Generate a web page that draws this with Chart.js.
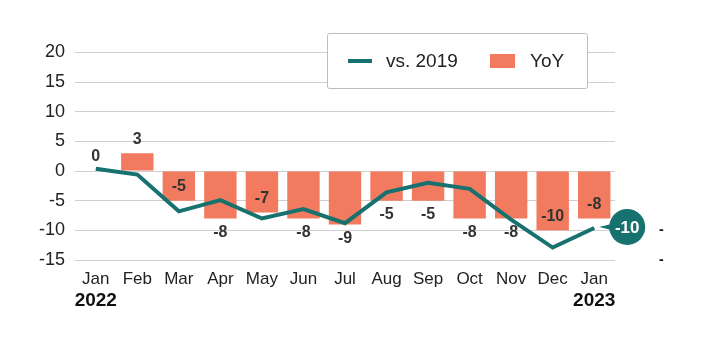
<!DOCTYPE html>
<html>
<head>
<meta charset="utf-8">
<script src="https://cdn.jsdelivr.net/npm/chart.js@4/dist/chart.umd.min.js"></script>
<style>
  html, body { margin: 0; padding: 0; background: #fff; }
  #wrap { width: 701px; height: 340px; }
</style>
</head>
<body>
<div id="wrap"><canvas id="chart" width="701" height="340"></canvas></div>
<script>
// Chart data
const categories = ['Jan', 'Feb', 'Mar', 'Apr', 'May', 'Jun', 'Jul', 'Aug', 'Sep', 'Oct', 'Nov', 'Dec', 'Jan'];
const yearLabels = ['2022', '', '', '', '', '', '', '', '', '', '', '', '2023'];
const yoyValues = [0, 3, -5, -8, -7, -8, -9, -5, -5, -8, -8, -10, -8];
const vs2019Values = [0.4, -0.6, -6.8, -4.9, -8, -6.4, -8.8, -3.6, -2, -3, -8.2, -12.9, -9.6];
// where each YoY label sits relative to its bar
const yoyLabelSide = ['above', 'above', 'inside', 'below', 'inside', 'below', 'below', 'below', 'below', 'below', 'below', 'inside', 'inside'];

const TEAL = '#17716f';
const SALMON = '#f27b5f';
const FONT = '"Liberation Sans", Arial, Helvetica, sans-serif';

Chart.defaults.font.family = FONT;
Chart.defaults.color = '#222';

/**
 * Draws the value labels on the bars, the bubble on the last line point
 * and the year captions under the first and last month.
 */
const labelPlugin = {
  id: 'labels',
  afterDatasetsDraw(chart) {
    const ctx = chart.ctx;
    const barMeta = chart.getDatasetMeta(1);
    ctx.save();
    ctx.font = 'bold 16px ' + FONT;
    ctx.fillStyle = '#333';
    ctx.textAlign = 'center';
    ctx.textBaseline = 'middle';
    barMeta.data.forEach((bar, i) => {
      const v = yoyValues[i];
      const top = Math.min(bar.y, bar.base);
      const bottom = Math.max(bar.y, bar.base);
      let y;
      if (yoyLabelSide[i] === 'above') y = top - 14;
      else if (yoyLabelSide[i] === 'inside') y = bottom - 14;
      else y = bottom + 14;
      ctx.fillText(String(v), bar.x, y);
    });

    // bubble for the last line value
    const lineMeta = chart.getDatasetMeta(0);
    const last = lineMeta.data[lineMeta.data.length - 1];
    const cx = last.x + 33, cy = last.y - 1;
    ctx.fillStyle = TEAL;
    ctx.beginPath();
    ctx.moveTo(last.x + 5, cy);
    ctx.lineTo(cx - 12, cy - 4);
    ctx.lineTo(cx - 12, cy + 4);
    ctx.closePath();
    ctx.fill();
    ctx.beginPath();
    ctx.arc(cx, cy, 18, 0, Math.PI * 2);
    ctx.fill();
    ctx.fillStyle = '#fff';
    ctx.font = 'bold 17px ' + FONT;
    ctx.fillText(String(Math.round(vs2019Values[vs2019Values.length - 1])), cx, cy + 1);
    ctx.restore();
  },
  afterDraw(chart) {
    const ctx = chart.ctx;
    const x = chart.scales.x;
    ctx.save();
    ctx.font = 'bold 19px ' + FONT;
    ctx.fillStyle = '#111';
    ctx.textAlign = 'center';
    ctx.textBaseline = 'middle';
    yearLabels.forEach((yr, i) => {
      if (yr) ctx.fillText(yr, x.getPixelForValue(i), 301);
    });

    // legend box inside the plot
    const bx = 327, by = 33, bw = 260, bh = 55;
    ctx.fillStyle = '#fff';
    ctx.strokeStyle = '#bdbdbd';
    ctx.lineWidth = 1;
    ctx.beginPath();
    ctx.roundRect(bx + 0.5, by + 0.5, bw, bh, 2);
    ctx.fill();
    ctx.stroke();
    const ds = chart.data.datasets;
    ctx.font = '19px ' + FONT;
    ctx.fillStyle = '#222';
    ctx.textAlign = 'left';
    ctx.strokeStyle = TEAL;
    ctx.lineWidth = 4;
    ctx.beginPath();
    ctx.moveTo(348, 61);
    ctx.lineTo(372, 61);
    ctx.stroke();
    ctx.fillText(ds[0].label, 386, 62);
    ctx.fillStyle = SALMON;
    ctx.fillRect(490, 54, 25, 14);
    ctx.fillStyle = '#222';
    ctx.fillText(ds[1].label, 530, 62);
    ctx.restore();
  }
};

const ctx = document.getElementById('chart').getContext('2d');
const chart = new Chart(ctx, {
  data: {
    labels: categories,
    datasets: [
      {
        type: 'line',
        label: 'vs. 2019',
        data: vs2019Values,
        borderColor: TEAL,
        borderWidth: 4,
        pointRadius: 0,
        tension: 0,
        order: 0
      },
      {
        type: 'bar',
        label: 'YoY',
        data: yoyValues,
        backgroundColor: SALMON,
        barPercentage: 0.78,
        categoryPercentage: 1,
        order: 1
      }
    ]
  },
  options: {
    responsive: false,
    animation: false,
    layout: { padding: { top: 50, left: 0, right: 0, bottom: 0 } },
    plugins: {
      legend: { display: false },
      tooltip: { enabled: false }
    },
    scales: {
      x: {
        offset: true,
        grid: { display: false, drawTicks: false },
        border: { display: false },
        ticks: { font: { size: 17 }, color: '#222', padding: 9, maxRotation: 0, autoSkip: false },
        afterFit: s => { s.height = 80; }
      },
      y: {
        position: 'left',
        min: -15,
        max: 20,
        ticks: { stepSize: 5, font: { size: 18 }, color: '#222', padding: 10 },
        grid: { color: '#cfcfcf', lineWidth: 1, drawTicks: false },
        border: { display: false },
        afterFit: s => { s.width = 75; }
      },
      y2: {
        position: 'right',
        min: -15,
        max: 20,
        grid: { display: false, drawTicks: false },
        border: { display: false },
        ticks: {
          stepSize: 5,
          padding: 44,
          color: '#111',
          font: { size: 14, weight: 'bold' },
          callback: v => (v === -10 || v === -15) ? '-' : ''
        },
        afterFit: s => { s.width = 86; }
      }
    }
  },
  plugins: [labelPlugin]
});
</script>
</body>
</html>
